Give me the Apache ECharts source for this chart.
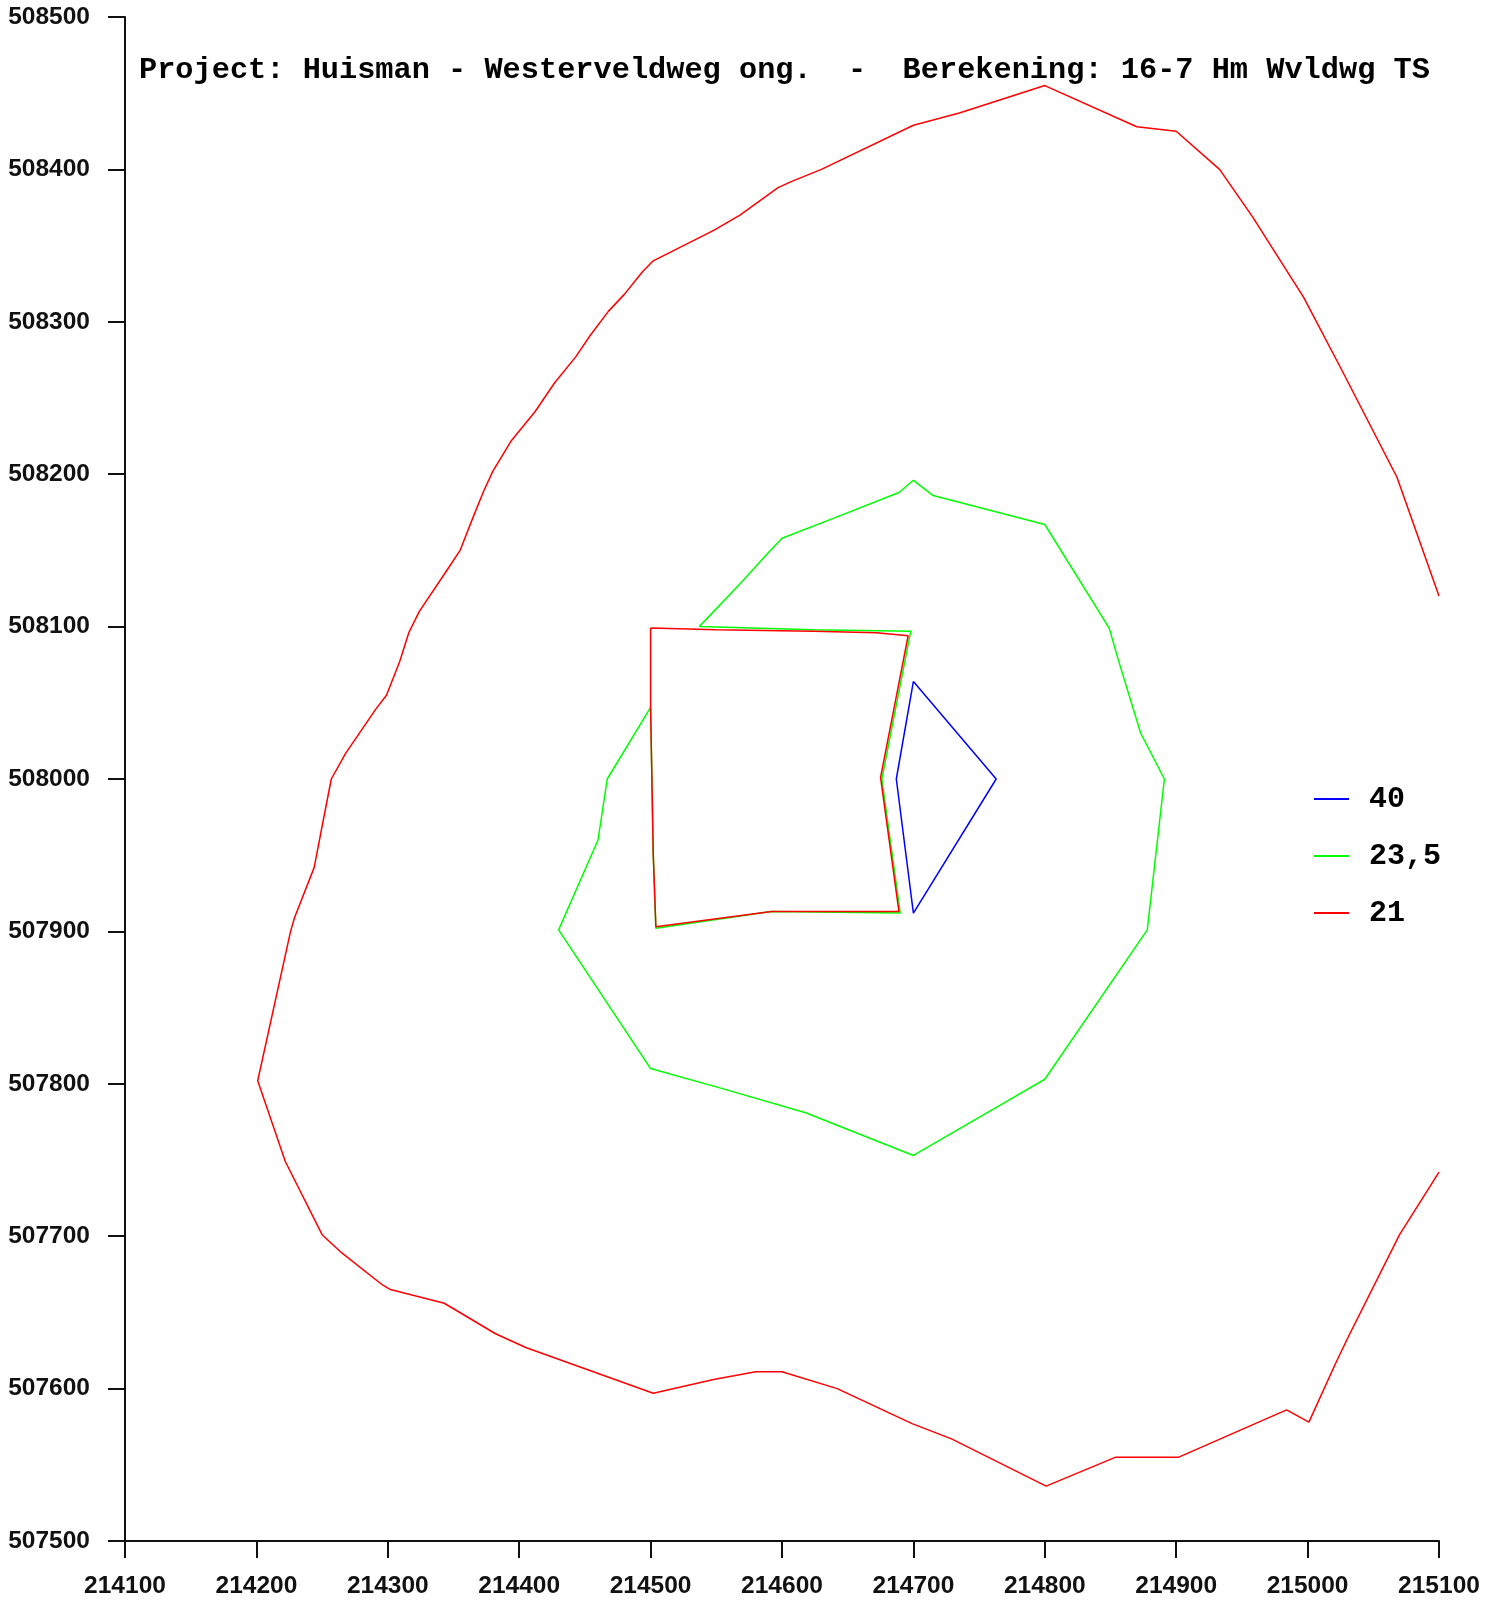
<!DOCTYPE html>
<html>
<head>
<meta charset="utf-8">
<title>Contouren</title>
<script src="https://cdn.jsdelivr.net/npm/echarts@6/dist/echarts.min.js"></script>
<style>
  html, body {margin: 0; padding: 0; background: #fff;}
  #chart {width: 1498px; height: 1603px;}
</style>
</head>
<body>
<div id="chart"></div>
<script>
  // tick labels
  var xTicks = [214100, 214200, 214300, 214400, 214500, 214600, 214700, 214800, 214900, 215000, 215100];
  var yTicks = [507500, 507600, 507700, 507800, 507900, 508000, 508100, 508200, 508300, 508400, 508500];

  var levelNames = ["40", "23,5", "21"];

  // contour 40 (blauw)
  var c40 = [
    [214700, 508064], [214763, 508000], [214700, 507912], [214687, 508000], [214700, 508064]
  ];

  // contour 23,5 (groen), om het gebouw heen en dan langs de gevel
  var c235 = [
    [214537, 508100], [214547, 508109], [214569, 508129], [214589, 508148], [214600, 508158],
    [214639, 508171], [214689, 508188], [214700, 508196], [214715, 508186], [214800, 508167],
    [214849, 508099], [214856, 508078], [214873, 508030], [214891, 508000], [214878, 507901],
    [214800, 507803], [214772, 507789], [214700, 507753], [214618, 507781], [214554, 507797],
    [214500, 507810], [214430, 507901], [214460, 507960], [214467, 508000], [214500, 508047],
    [214502, 507951], [214504, 507902], [214592, 507913], [214690, 507912], [214676, 508000],
    [214698, 508097], [214624, 508098], [214537, 508100]
  ];

  // contour 21 (rood), buitenste lijn
  var c21outer = [
    [215100, 508120], [215068, 508198], [215025, 508270], [214997, 508316], [214958, 508369],
    [214933, 508400], [214900, 508425], [214870, 508428], [214800, 508455], [214735, 508437],
    [214700, 508429], [214630, 508400], [214607, 508392], [214597, 508388], [214568, 508370],
    [214548, 508360], [214502, 508340], [214494, 508333], [214480, 508318], [214468, 508307],
    [214454, 508291], [214443, 508277], [214427, 508260], [214412, 508241], [214394, 508222],
    [214380, 508202], [214373, 508189], [214365, 508172], [214355, 508150], [214345, 508137],
    [214324, 508110], [214316, 508096], [214309, 508077], [214299, 508055], [214291, 508046],
    [214268, 508017], [214257, 508000], [214250, 507969], [214244, 507942], [214229, 507909],
    [214226, 507900], [214201, 507802], [214222, 507749], [214250, 507701], [214265, 507689],
    [214296, 507668], [214302, 507665], [214343, 507656], [214382, 507636], [214405, 507627],
    [214502, 507597], [214548, 507606], [214580, 507611], [214600, 507611], [214642, 507600],
    [214699, 507577], [214729, 507567], [214801, 507536], [214854, 507555], [214902, 507555],
    [214984, 507586], [215001, 507578], [215021, 507616], [215031, 507634], [215070, 507701],
    [215100, 507742]
  ];

  // contour 21 (rood), rond het gebouw
  var c21inner = [
    [214500, 508099], [214550, 508098], [214624, 508097], [214672, 508096], [214696, 508094],
    [214675, 508001], [214689, 507913], [214592, 507913], [214504, 507903], [214502, 507951],
    [214500, 508047], [214500, 508099]
  ];

  var chartDom;

  function lineSeries(name, color, data){
    return {
      name: name,
      type: 'line',
      data: data,
      symbol: 'none',
      showSymbol: false,
      lineStyle: {color: color, width: 1.5},
      itemStyle: {color: color},
      emphasis: {disabled: true}
    };
  }

  function plainNumber(v){
    // geen duizendtal-scheiding zoals in het origineel
    return String(v);
  }

  function getOptions(){
    var labelFont = {fontFamily: "Liberation Sans", fontWeight: "bold", fontSize: 24.5, color: "#111"},
      axisColor = "#111",
      monoFont = "Liberation Mono"
    ;
    return {
      animation: false,
      backgroundColor: "#fff",
      title: {
        text: "Project: Huisman - Westerveldweg ong.  -  Berekening: 16-7 Hm Wvldwg TS",
        left: 134,
        top: 50,
        textStyle: {fontFamily: monoFont, fontWeight: "bold", fontSize: 30.3, color: "#000"}
      },
      legend: {
        data: levelNames,
        orient: 'vertical',
        left: 1309,
        top: 779,
        icon: 'rect',
        itemWidth: 35,
        itemHeight: 2,
        itemGap: 27,
        textStyle: {fontFamily: monoFont, fontWeight: "bold", fontSize: 30, lineHeight: 30, color: "#000", padding: [0, 0, 0, 15]}
      },
      grid: {
        left: 125,
        right: 59,
        top: 17,
        bottom: 62,
        containLabel: false
      },
      xAxis: {
        type: 'value',
        min: xTicks[0],
        max: xTicks[xTicks.length - 1],
        interval: 100,
        axisLine: {show: true, lineStyle: {color: axisColor, width: 2}},
        axisTick: {show: true, inside: false, length: 17, lineStyle: {color: axisColor, width: 2}},
        splitLine: {show: false},
        axisLabel: Object.assign({margin: 33, showMinLabel: true, showMaxLabel: true, formatter: plainNumber}, labelFont)
      },
      yAxis: {
        type: 'value',
        min: yTicks[0],
        max: yTicks[yTicks.length - 1],
        interval: 100,
        axisLine: {show: true, lineStyle: {color: axisColor, width: 2}},
        axisTick: {show: true, inside: false, length: 17, lineStyle: {color: axisColor, width: 2}},
        splitLine: {show: false},
        axisLabel: Object.assign({margin: 35, showMinLabel: true, showMaxLabel: true, formatter: plainNumber}, labelFont)
      },
      series: [
        lineSeries(levelNames[0], "#0000ff", c40),
        lineSeries(levelNames[1], "#00ff00", c235),
        lineSeries(levelNames[2], "#ff0000", c21outer),
        lineSeries(levelNames[2], "#ff0000", c21inner)
      ]
    };
  }

  chartDom = echarts.init(document.getElementById("chart"));
  chartDom.setOption(getOptions());
</script>
</body>
</html>
